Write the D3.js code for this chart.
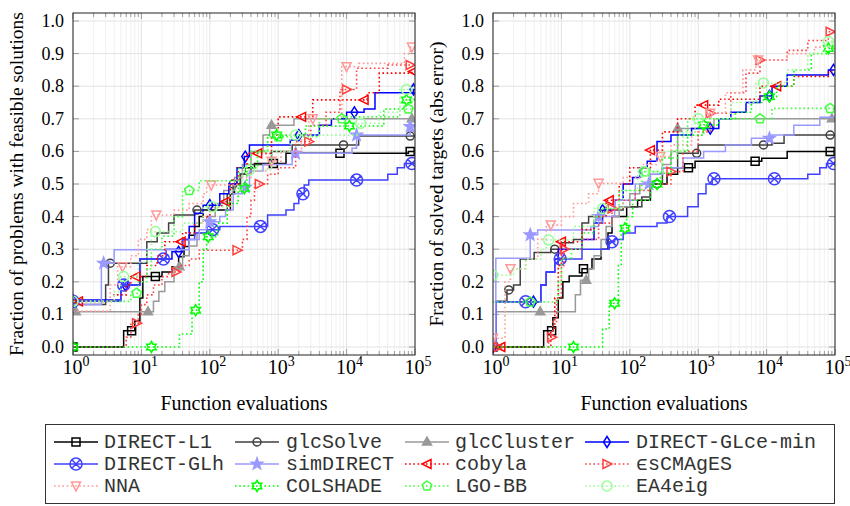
<!DOCTYPE html>
<html>
<head>
<meta charset="utf-8">
<script src="https://cdn.jsdelivr.net/npm/d3@7"></script>
<style>
  body { margin: 0; background: #fff; }
  svg { display: block; }
</style>
</head>
<body>
<svg width="850" height="506"></svg>
<script>
// solver names, in plot order (legend fills row by row, 4 columns)
const names = ['DIRECT-L1', 'glcSolve', 'glcCluster', 'DIRECT-GLce-min',
  'DIRECT-GLh', 'simDIRECT', 'cobyla', '\u03f5sCMAgES',
  'NNA', 'COLSHADE', 'LGO-BB', 'EA4eig'];

// left panel: fraction of problems with feasible solutions, [evaluations, fraction]
const fL1 = [[1,0],[5.5,0.05],[8,0.08],[9.5,0.15],[10.5,0.216],[20,0.23],[28,0.246],[35,0.277],[42,0.308],[50,0.343],[60,0.37],[70,0.4],[80,0.42],[200,0.47],[230,0.5],[280,0.53],[330,0.55],[450,0.563],[1300,0.594],[80000,0.6]];
const fGlcSolve = [[1,0.13],[3,0.19],[3.3,0.257],[12,0.323],[17,0.35],[25,0.38],[30,0.405],[60,0.42],[180,0.47],[220,0.5],[280,0.53],[400,0.56],[800,0.6],[1600,0.62],[15000,0.647]];
const fGlcCluster = [[1,0.108],[15,0.14],[18,0.17],[22,0.2],[30,0.246],[40,0.28],[50,0.31],[65,0.35],[90,0.4],[120,0.44],[160,0.48],[230,0.52],[300,0.56],[400,0.6],[600,0.65],[750,0.68],[1700,0.7]];
const fGLce = [[1,0.144],[5,0.19],[9.5,0.27],[28,0.292],[40,0.33],[50,0.37],[60,0.41],[80,0.435],[140,0.47],[190,0.5],[250,0.55],[320,0.584],[380,0.62],[1500,0.635],[2000,0.65],[4000,0.68],[6000,0.7],[10000,0.72],[18000,0.73],[26000,0.78],[95000,0.79]];
const fGLh = [[1,0.14],[5,0.19],[9.5,0.27],[23,0.3],[40,0.33],[60,0.35],[90,0.36],[140,0.37],[700,0.405],[1300,0.42],[1700,0.44],[2000,0.47],[2400,0.497],[2800,0.512],[40000,0.53],[55000,0.55],[70000,0.563]];
const fSim = [[1,0.13],[2.6,0.257],[4,0.298],[50,0.33],[70,0.36],[90,0.384],[140,0.4],[170,0.42],[220,0.47],[300,0.49],[380,0.54],[600,0.56],[1600,0.594],[12000,0.61],[14000,0.65],[85000,0.676]];
const fCobyla = [[1,0.14],[4,0.16],[6,0.19],[7,0.216],[12,0.25],[17,0.28],[22,0.323],[40,0.35],[60,0.38],[80,0.4],[100,0.43],[150,0.446],[200,0.5],[260,0.55],[350,0.594],[800,0.65],[1000,0.706],[3200,0.758],[20000,0.78],[30000,0.84],[90000,0.845]];
const fEsCMA = [[1,0],[6,0.03],[7,0.073],[9,0.1],[10,0.13],[12,0.16],[15,0.19],[20,0.216],[25,0.23],[35,0.25],[50,0.27],[70,0.297],[300,0.33],[350,0.4],[400,0.45],[450,0.5],[700,0.53],[1000,0.55],[1800,0.63],[3000,0.68],[5000,0.72],[8000,0.79],[14000,0.855],[40000,0.865]];
const fNNA = [[1,0.11],[3.5,0.19],[4.5,0.246],[7,0.28],[9,0.33],[12,0.36],[14,0.405],[30,0.42],[50,0.44],[80,0.47],[90,0.497],[250,0.52],[400,0.54],[700,0.57],[1100,0.6],[2200,0.65],[2800,0.7],[8500,0.86],[15000,0.87],[70000,0.9],[85000,0.92]];
const fColshade = [[1,0],[36,0.04],[55,0.113],[70,0.2],[80,0.3],[90,0.338],[130,0.38],[180,0.44],[260,0.487],[350,0.55],[500,0.6],[700,0.65],[2500,0.678],[35000,0.73],[70000,0.758]];
const fLGO = [[1,0.14],[7,0.165],[9,0.2],[12,0.24],[14,0.3],[20,0.34],[30,0.4],[40,0.48],[70,0.51],[270,0.55],[400,0.6],[700,0.645],[4000,0.7],[9000,0.706],[60000,0.73],[90000,0.76]];
const fEA = [[1,0.14],[4,0.17],[5,0.216],[9,0.26],[12,0.3],[14,0.354],[40,0.38],[80,0.43],[200,0.48],[300,0.543],[800,0.6],[1500,0.65],[15000,0.686],[30000,0.72],[60000,0.79]];

// right panel: fraction of solved targets (abs error)
const tL1 = [[1,0],[5.5,0.05],[7.5,0.09],[9,0.15],[10.5,0.2],[13,0.218],[20,0.24],[28,0.27],[38,0.3],[48,0.35],[55,0.4],[90,0.43],[130,0.45],[200,0.5],[350,0.53],[500,0.55],[900,0.57],[8500,0.579],[20000,0.6]];
const tGlcSolve = [[1,0],[1.1,0.14],[1.6,0.175],[2,0.19],[2.5,0.27],[4,0.29],[7,0.3],[10,0.32],[15,0.33],[20,0.38],[25,0.4],[35,0.42],[80,0.43],[150,0.46],[200,0.5],[300,0.55],[500,0.594],[1000,0.62],[12000,0.625],[18000,0.65]];
const tGlcCluster = [[1,0],[1.1,0.108],[16,0.16],[19,0.205],[25,0.24],[30,0.28],[38,0.33],[45,0.37],[55,0.4],[70,0.43],[100,0.47],[140,0.5],[200,0.53],[300,0.56],[400,0.6],[500,0.67],[1700,0.7]];
const tGLce = [[1,0],[1.1,0.139],[5,0.19],[6,0.23],[8,0.27],[9,0.3],[20,0.33],[30,0.38],[40,0.42],[60,0.45],[80,0.5],[110,0.52],[140,0.55],[180,0.57],[250,0.63],[400,0.65],[800,0.67],[2000,0.7],[3000,0.72],[5000,0.75],[8000,0.77],[12000,0.8],[20000,0.834],[80000,0.85]];
const tGLh = [[1,0],[1.1,0.139],[5,0.19],[6,0.23],[8,0.257],[9,0.27],[20,0.3],[50,0.323],[60,0.33],[80,0.35],[120,0.37],[250,0.38],[350,0.4],[700,0.43],[1000,0.47],[1300,0.5],[1600,0.516],[40000,0.53],[60000,0.55],[75000,0.563]];
const tSim = [[1,0],[1.1,0.272],[3.5,0.344],[4.5,0.359],[27,0.37],[35,0.4],[60,0.45],[120,0.5],[200,0.53],[300,0.55],[600,0.58],[1200,0.6],[2500,0.62],[6000,0.64],[12000,0.65],[25000,0.68],[60000,0.705]];
const tCobyla = [[1,0],[7,0.05],[8,0.15],[9,0.25],[10,0.323],[20,0.36],[30,0.4],[45,0.45],[70,0.5],[100,0.55],[200,0.604],[300,0.66],[500,0.7],[900,0.742],[2000,0.76],[8000,0.8],[25000,0.83],[80000,0.845]];
const tEsCMA = [[1,0],[6.5,0.03],[7.5,0.078],[8.5,0.15],[10,0.25],[11,0.3],[20,0.33],[35,0.38],[55,0.425],[80,0.45],[120,0.48],[200,0.5],[400,0.538],[600,0.6],[1000,0.66],[1500,0.717],[3000,0.78],[5000,0.84],[8000,0.88],[20000,0.91],[40000,0.94],[80000,0.967]];
const tNNA = [[1,0.027],[1.5,0.2],[1.8,0.24],[3,0.27],[4.5,0.33],[6,0.374],[10,0.4],[15,0.44],[25,0.47],[35,0.502],[80,0.52],[150,0.56],[250,0.584],[400,0.62],[800,0.66],[1300,0.717],[2500,0.78],[4500,0.85],[7000,0.88],[20000,0.9],[50000,0.92],[90000,0.937]];
const tColshade = [[1,0],[40,0.055],[50,0.134],[68,0.25],[75,0.364],[90,0.4],[110,0.45],[200,0.5],[280,0.533],[400,0.6],[700,0.65],[1200,0.681],[2000,0.7],[3500,0.72],[6000,0.75],[9000,0.768],[14000,0.8],[25000,0.85],[45000,0.9],[80000,0.916]];
const tLGO = [[1,0.138],[9,0.2],[10,0.272],[14,0.3],[20,0.35],[30,0.4],[40,0.425],[70,0.48],[150,0.538],[300,0.58],[500,0.65],[700,0.7],[12000,0.732]];
const tEA = [[1,0.22],[2,0.24],[3,0.27],[5,0.3],[6,0.328],[15,0.37],[30,0.425],[80,0.48],[130,0.538],[300,0.6],[600,0.66],[900,0.7],[3000,0.75],[7000,0.81],[20000,0.85],[40000,0.9],[70000,0.937]];

const feasibleSeries = [fL1, fGlcSolve, fGlcCluster, fGLce, fGLh, fSim, fCobyla, fEsCMA, fNNA, fColshade, fLGO, fEA];
const targetSeries = [tL1, tGlcSolve, tGlcCluster, tGLce, tGLh, tSim, tCobyla, tEsCMA, tNNA, tColshade, tLGO, tEA];

// evaluations at which a mark is drawn on each curve
const feasibleMarks = [
  [1,7.2,16,850,8000,85000],
  [3.5,65,220,9000,85000],
  [1.1,12.5,36,800,90000],
  [1,5.8,35,100,330,2000,13000,95000],
  [1,5.5,21,110,550,2300,14000,90000],
  [2.8,100,330,1800,14000,85000],
  [1.2,8.3,38,170,500,2200,18000,95000],
  [8.5,32,250,530,2800,10000,85000],
  [5.3,16.5,105,800,3200,10000,90000],
  [1,14,62,95,320,950,11000,75000],
  [8.5,50,1000,8500,80000],
  [1,5.5,16,110,380,1800,16000,75000]
];
const targetMarks = [
  [1,7.2,21,720,6800,85000],
  [1.7,8,250,950,9000,85000],
  [1,4.9,23,500,90000],
  [1,3.9,40,1500,11000,95000],
  [3,9.6,55,380,1700,13000,95000],
  [3.5,35,190,11000],
  [1.3,10,50,200,1200,14000],
  [1.2,7.2,11,55,400,1500,8000,85000],
  [1,1.8,7,35,280,1500,7500],
  [15,60,85,250,1200,11000,80000],
  [3.5,170,8000,85000],
  [1,6.5,40,160,1000,9000,80000]
];

const yTicks = d3.range(0, 11).map(i => i / 10);
const xDecades = [1, 10, 100, 1000, 10000, 100000];

// styles
const colors = ['#000000', '#404040', '#999999', '#0000ff', '#4040ff', '#9999ff',
  '#ff0000', '#ff4040', '#ff9999', '#00ff00', '#40ff40', '#99ff99'];
const dotted = [false, false, false, false, false, false, true, true, true, true, true, true];
const symbols = ['square', 'circle', 'triangle', 'diamond', 'otimes', 'star',
  'tleft', 'tright', 'tdown', 'hexagram', 'pentagon', 'circlebig'];

const svg = d3.select('svg');
const serif = "'Liberation Serif', 'DejaVu Serif', serif";
const mono = "'Liberation Mono', 'DejaVu Sans Mono', monospace";

function poly(pts) { return 'M' + pts.map(p => p[0].toFixed(2) + ',' + p[1].toFixed(2)).join('L') + 'Z'; }
function circ(r) { return `M${r},0A${r},${r} 0 1 1 ${-r},0A${r},${r} 0 1 1 ${r},0Z`; }
function starPts(n, ro, ri) {
  const p = [];
  for (let i = 0; i < 2 * n; i++) {
    const a = -Math.PI / 2 + i * Math.PI / n, r = i % 2 ? ri : ro;
    p.push([r * Math.cos(a), r * Math.sin(a)]);
  }
  return p;
}
function markPath(s) {
  switch (s) {
    case 'square': return 'M-4,-4H4V4H-4Z';
    case 'circle': return circ(4);
    case 'circlebig': return circ(5);
    case 'triangle': return poly([[0,-5],[4.5,3],[-4.5,3]]);
    case 'diamond': return poly([[0,-5.5],[3.5,0],[0,5.5],[-3.5,0]]);
    case 'otimes': return circ(6) + 'M-4.2,-4.2L4.2,4.2M-4.2,4.2L4.2,-4.2';
    case 'star': return poly(starPts(5, 6, 2.5));
    case 'tleft': return poly([[-5,0],[4,-4.5],[4,4.5]]);
    case 'tright': return poly([[5,0],[-4,-4.5],[-4,4.5]]);
    case 'tdown': return poly([[-4.5,-4],[4.5,-4],[0,5]]);
    case 'hexagram': return poly(starPts(6, 5.5, 3.2));
    case 'pentagon': return poly(d3.range(5).map(i => {
      const a = -Math.PI / 2 + i * 2 * Math.PI / 5; return [5 * Math.cos(a), 5 * Math.sin(a)];
    }));
  }
}
function drawMark(g, i, x, y) {
  const filled = symbols[i] === 'triangle' || symbols[i] === 'star';
  g.append('path')
    .attr('d', markPath(symbols[i]))
    .attr('transform', `translate(${x},${y})`)
    .attr('fill', filled ? colors[i] : 'none')
    .attr('stroke', colors[i])
    .attr('stroke-width', 1.5);
}
function stepValue(data, xv) {
  let v = data[0][1];
  for (const d of data) { if (d[0] <= xv) v = d[1]; }
  return v;
}

const plotTop = 13, plotBottom = 355;

function panel(id, left, right, series, marks, ylabel, labelX) {
  const x = d3.scaleLog().domain([1, 1e5]).range([left, right]);
  const y = d3.scaleLinear().domain([0, 1]).range([347, 21]);
  const g = svg.append('g');

  g.append('clipPath').attr('id', id)
    .append('rect').attr('x', left).attr('y', plotTop).attr('width', right - left).attr('height', plotBottom - plotTop);

  // grid
  const minor = [];
  xDecades.slice(0, 5).forEach(dec => { for (let k = 2; k <= 9; k++) minor.push(dec * k); });
  g.selectAll('.mg').data(minor).join('line')
    .attr('x1', d => x(d)).attr('x2', d => x(d)).attr('y1', plotTop).attr('y2', plotBottom)
    .attr('stroke', '#eeeeee').attr('stroke-width', 0.8);
  g.selectAll('.xg').data(xDecades).join('line')
    .attr('x1', d => x(d)).attr('x2', d => x(d)).attr('y1', plotTop).attr('y2', plotBottom)
    .attr('stroke', '#dcdcdc').attr('stroke-width', 0.8);
  g.selectAll('.yg').data(yTicks).join('line')
    .attr('x1', left).attr('x2', right).attr('y1', d => y(d)).attr('y2', d => y(d))
    .attr('stroke', '#dcdcdc').attr('stroke-width', 0.8);

  // ticks (inward, on all four sides)
  const tk = g.append('g').attr('stroke', '#888').attr('stroke-width', 0.8);
  minor.forEach(d => {
    tk.append('line').attr('x1', x(d)).attr('x2', x(d)).attr('y1', plotBottom).attr('y2', plotBottom - 4);
    tk.append('line').attr('x1', x(d)).attr('x2', x(d)).attr('y1', plotTop).attr('y2', plotTop + 4);
  });
  xDecades.forEach(d => {
    tk.append('line').attr('x1', x(d)).attr('x2', x(d)).attr('y1', plotBottom).attr('y2', plotBottom - 6);
    tk.append('line').attr('x1', x(d)).attr('x2', x(d)).attr('y1', plotTop).attr('y2', plotTop + 6);
  });
  yTicks.forEach(d => {
    tk.append('line').attr('x1', left).attr('x2', left + 6).attr('y1', y(d)).attr('y2', y(d));
    tk.append('line').attr('x1', right).attr('x2', right - 6).attr('y1', y(d)).attr('y2', y(d));
  });

  // curves
  const line = d3.line().x(d => x(d[0])).y(d => y(d[1])).curve(d3.curveStepAfter);
  const plot = g.append('g').attr('clip-path', `url(#${id})`);
  series.forEach((data, i) => {
    const pts = data.concat([[1e5, data[data.length - 1][1]]]);
    plot.append('path')
      .attr('d', line(pts))
      .attr('fill', 'none')
      .attr('stroke', colors[i])
      .attr('stroke-width', dotted[i] ? 1.6 : 1.5)
      .attr('stroke-dasharray', dotted[i] ? '1.6,2.6' : null);
    marks[i].forEach(m => drawMark(plot, i, x(m), y(stepValue(data, m))));
  });

  // frame
  g.append('rect').attr('x', left).attr('y', plotTop).attr('width', right - left).attr('height', plotBottom - plotTop)
    .attr('fill', 'none').attr('stroke', '#222').attr('stroke-width', 1);

  // tick labels
  g.selectAll('.yl').data(yTicks).join('text')
    .attr('x', left - 9).attr('y', d => y(d) + 6)
    .attr('text-anchor', 'end')
    .attr('font-family', serif).attr('font-size', 18)
    .text(d3.format('.1f'));
  xDecades.forEach((d, k) => {
    const t = g.append('text')
      .attr('x', x(d) + 3).attr('y', 374)
      .attr('text-anchor', 'middle')
      .attr('font-family', serif).attr('font-size', 20);
    t.append('tspan').text('10');
    t.append('tspan').attr('dy', -8).attr('font-size', 14).text(k);
  });

  // axis titles
  g.append('text')
    .attr('x', (left + right) / 2).attr('y', 410)
    .attr('text-anchor', 'middle')
    .attr('font-family', serif).attr('font-size', 20)
    .text('Function evaluations');
  g.append('text')
    .attr('transform', `translate(${labelX},${(plotTop + plotBottom) / 2}) rotate(-90)`)
    .attr('text-anchor', 'middle')
    .attr('font-family', serif).attr('font-size', 19.5)
    .text(ylabel);
}

panel('clipL', 73, 415, feasibleSeries, feasibleMarks, 'Fraction of problems with feasible solutions', 23);
panel('clipR', 493, 835, targetSeries, targetMarks, 'Fraction of solved targets (abs error)', 443);

// legend
const legend = svg.append('g');
legend.append('rect')
  .attr('x', 45.5).attr('y', 424.5).attr('width', 789).attr('height', 79)
  .attr('fill', '#fff').attr('stroke', '#333').attr('stroke-width', 1);
const colLine = [54, 235, 405, 585];
const colText = [104, 286, 455, 636];
const rowY = [442, 464, 486];
names.forEach((n, i) => {
  const c = i % 4, r = Math.floor(i / 4);
  const ly = rowY[r];
  legend.append('line')
    .attr('x1', colLine[c]).attr('x2', colLine[c] + 44).attr('y1', ly).attr('y2', ly)
    .attr('stroke', colors[i]).attr('stroke-width', dotted[i] ? 1.6 : 1.5)
    .attr('stroke-dasharray', dotted[i] ? '1.6,2.6' : null);
  drawMark(legend, i, colLine[c] + 22, ly);
  legend.append('text')
    .attr('x', colText[c]).attr('y', ly + 6)
    .attr('font-family', mono).attr('font-size', 20)
    .attr('fill', '#333')
    .text(n);
});
</script>
</body>
</html>
